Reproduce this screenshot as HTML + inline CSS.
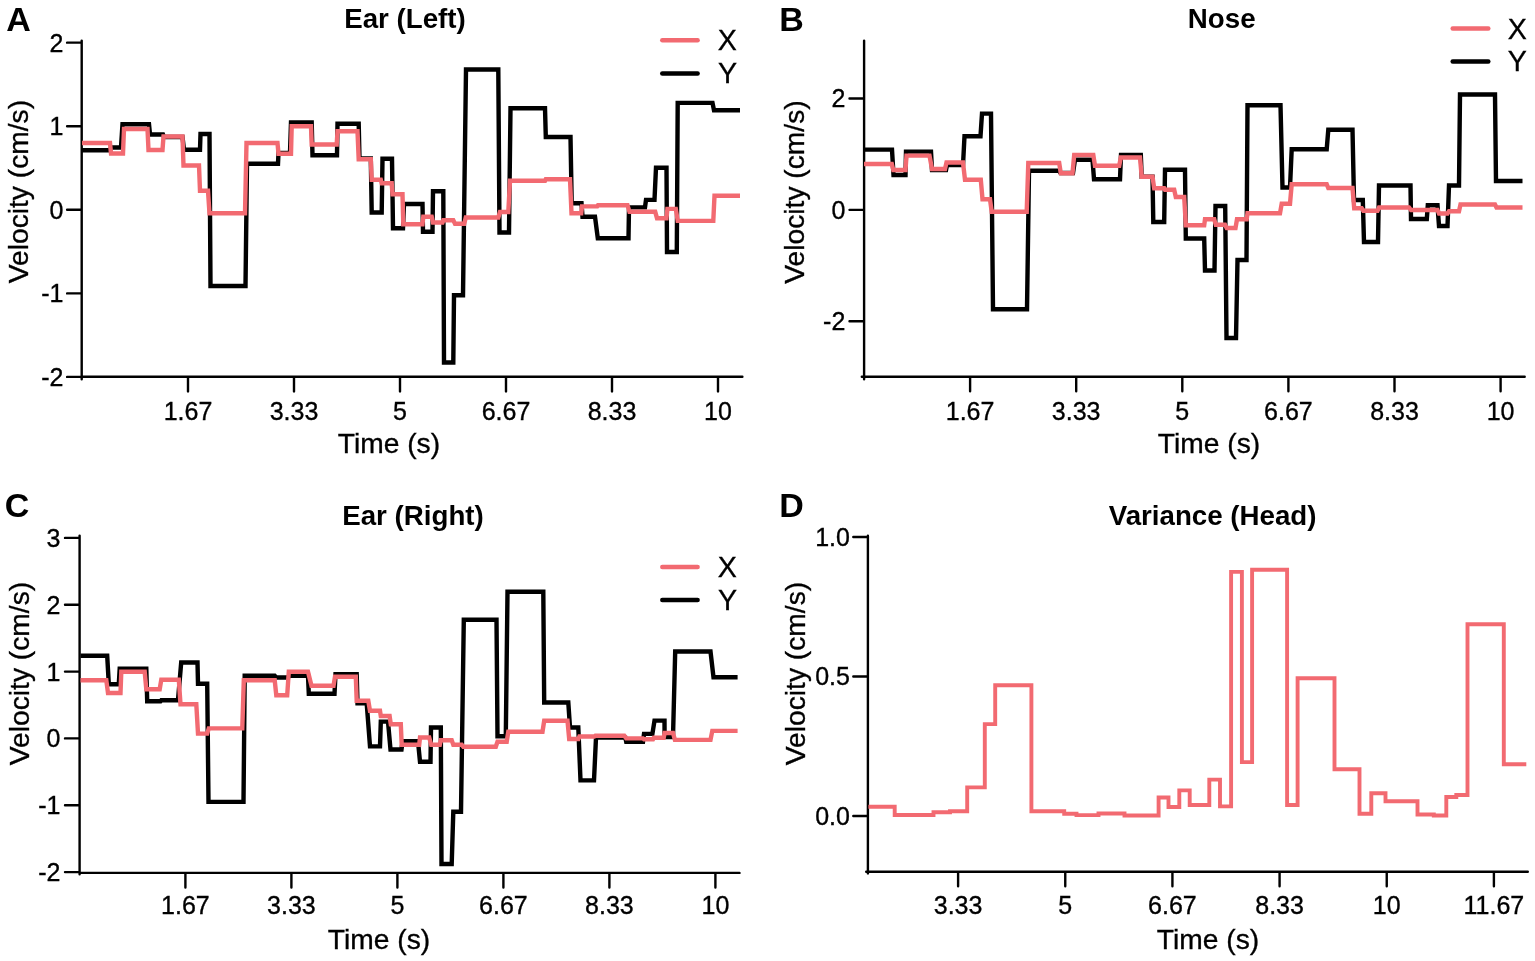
<!DOCTYPE html>
<html><head><meta charset="utf-8"><title>Velocity plots</title>
<style>
html,body{margin:0;padding:0;background:#fff;width:1535px;height:961px;overflow:hidden;}
svg{display:block;}
text{font-family:"Liberation Sans",Arial,sans-serif;}
</style></head><body>
<svg width="1535" height="961" viewBox="0 0 1535 961">
<rect width="1535" height="961" fill="#fff"/>
<g stroke="#000" stroke-width="2.4" fill="none" stroke-linecap="round">
<path d="M81.7 40.6 V379.2 M81.7 376.8 H742.4 M67.1 42.66 H81.7 M67.1 126.2 H81.7 M67.1 209.8 H81.7 M67.1 293.4 H81.7 M67.1 376.9 H81.7 M188 376.8 V391.4 M294 376.8 V391.4 M400 376.8 V391.4 M506 376.8 V391.4 M612 376.8 V391.4 M718 376.8 V391.4"/>
<path d="M864.1 40.6 V379.2 M861.8 376.7 H1524.7 M849.5 98.5 H864.1 M849.5 209.85 H864.1 M849.5 321.2 H864.1 M970.1 376.7 V391.3 M1076.2 376.7 V391.3 M1182.3 376.7 V391.3 M1288.4 376.7 V391.3 M1394.5 376.7 V391.3 M1500.6 376.7 V391.3"/>
<path d="M79.6 535.6 V874.2 M79.6 872.9 H739.5 M65 537.9 H79.6 M65 604.7 H79.6 M65 671.6 H79.6 M65 738.4 H79.6 M65 805.25 H79.6 M65 872.1 H79.6 M185.4 872.9 V887.5 M291.4 872.9 V887.5 M397.4 872.9 V887.5 M503.4 872.9 V887.5 M609.4 872.9 V887.5 M715.4 872.9 V887.5"/>
<path d="M867.9 535.7 V873.4 M866.2 871.7 H1527.8 M853.3 537.05 H867.9 M853.3 676.5 H867.9 M853.3 816 H867.9 M958.1 871.7 V886.3 M1065.26 871.7 V886.3 M1172.42 871.7 V886.3 M1279.58 871.7 V886.3 M1386.74 871.7 V886.3 M1493.9 871.7 V886.3"/>
</g>
<g fill="none" stroke-width="4.4" stroke-linejoin="miter" stroke-miterlimit="10">
<path stroke="#000" d="M82 150.3 L110 150.3 L111 147.5 L121 147.5 L122.5 124.2 L149 124.2 L150 134.5 L163 134.5 L164 137 L182.5 137 L184 149.7 L200 149.7 L200.5 134 L209.5 134 L210.5 286 L245.5 286 L247 163.7 L278 163.7 L278.5 153 L290 153 L291 122.5 L311.7 122.5 L312.5 155.3 L337 155.3 L337.5 123.7 L358.7 123.7 L359.5 158.5 L370.8 158.5 L371.7 212.5 L381.7 212.5 L382.5 158.7 L392 158.7 L393 228.3 L403 228.3 L404 204 L422.5 204 L423 231.7 L432.5 231.7 L433 191.3 L443.3 191.3 L444 362.5 L453.3 362.5 L454 295.3 L463 295.3 L466 69.5 L498.3 69.5 L499.5 232.5 L509 232.5 L510.5 108.3 L545 108.3 L545.8 137 L570.5 137 L571.7 203.2 L581.5 203.2 L582.5 216.7 L595 216.7 L597.8 238.2 L628.5 238.2 L629 207.4 L645 207.4 L646 199.9 L654.5 199.9 L656 167.7 L666.5 167.7 L667 252 L676.8 252 L677.7 102.9 L712.5 102.9 L714 110.3 L740 110.3"/>
<path stroke="#f26a71" d="M82 143 L110 143 L111 153.5 L123 153.5 L124 129 L147.5 129 L148.5 150 L162.5 150 L163.5 136.5 L182.5 136.5 L183.5 165.5 L199 165.5 L200 190.8 L208 190.8 L209.5 213.3 L245 213.3 L246.5 143 L277.5 143 L278.5 153.7 L291 153.7 L291.7 126.3 L311 126.3 L311.7 144.5 L336.7 144.5 L337.5 131.3 L357.5 131.3 L358.7 159.2 L370.8 159.2 L371.7 179.7 L380.8 179.7 L381.7 183.3 L391.7 183.3 L392.5 194.2 L402.5 194.2 L403.3 224.2 L422.5 224.2 L423.3 216.7 L431.7 216.7 L433 222.5 L442.5 222.5 L443.3 220.3 L453.3 220.3 L455 223.7 L464.2 223.7 L465.8 217.5 L498.3 217.5 L500 212 L508.3 212 L510 180.8 L545 180.8 L545.8 179.2 L570 179.2 L571.5 213.3 L581.2 213.3 L582 206.4 L597.2 206.4 L598 205.2 L627.5 205.2 L629.5 211.8 L655.2 211.8 L657 218.2 L666.5 218.2 L667.4 208.9 L675.8 208.9 L677.7 220.9 L713.3 220.9 L714.5 195.8 L740 195.8"/>
<path stroke="#000" d="M864 149.6 L892 149.6 L893.5 175 L905.5 175 L906 151.6 L931 151.6 L932 170 L946 170 L947 165 L963 165 L964.5 136.2 L980.5 136.2 L982 113.6 L991 113.6 L993 309.3 L1027 309.3 L1029 170.8 L1059 170.8 L1060.5 173 L1073 173 L1075 159.7 L1092.5 159.7 L1094 179.2 L1120 179.2 L1121 155 L1140.8 155 L1141.7 176.7 L1152.5 176.7 L1153.3 222 L1164.2 222 L1165 169.7 L1185 169.7 L1185.8 238.5 L1204.2 238.5 L1205 270.5 L1214.5 270.5 L1215.5 206 L1225.2 206 L1226.5 338 L1236 338 L1237.5 260 L1246.5 260 L1247.5 105.3 L1280.5 105.3 L1282.5 187.5 L1290 187.5 L1291.7 149.2 L1326.7 149.2 L1328.3 129.7 L1352.5 129.7 L1354 200 L1362.8 200 L1364 242 L1378 242 L1379 185.5 L1410.5 185.5 L1411 219 L1426.8 219 L1427.8 205.3 L1437.5 205.3 L1439 226 L1447.5 226 L1449 185.5 L1459 185.5 L1460 94.5 L1495 94.5 L1496 181 L1522.5 181"/>
<path stroke="#f26a71" d="M864 164 L891.8 164 L893.3 170 L905.5 170 L906.5 155.6 L929.5 155.6 L932 169 L945 169 L946.5 162.5 L963 162.5 L965 179.7 L980.8 179.7 L982.5 199.2 L990 199.2 L991.7 211.8 L1026.7 211.8 L1028.3 163 L1059.2 163 L1060.8 173.3 L1072.5 173.3 L1074.2 155 L1093.3 155 L1095 165.8 L1119.2 165.8 L1120.8 157.5 L1140 157.5 L1141.7 176.7 L1152.5 176.7 L1154.2 188.3 L1164.2 188.3 L1165 189.7 L1174.2 189.7 L1175.8 197 L1184.2 197 L1185.8 225.2 L1204.2 225.2 L1205 219.2 L1214.2 219.2 L1215.8 224.8 L1225 224.8 L1226.7 228 L1235.5 228 L1237 219.3 L1246.7 219.3 L1247.5 213.3 L1280 213.3 L1281.7 203.7 L1290 203.7 L1291.7 184.2 L1326.7 184.2 L1328.3 188 L1352.5 188 L1354.2 208.3 L1361.7 208.3 L1363.3 210.8 L1377.5 210.8 L1379 207.5 L1409 207.5 L1411 210 L1437.5 210 L1439 213.5 L1447.5 213.5 L1449 211.2 L1459 211.2 L1460.5 204.5 L1495 204.5 L1496.5 207.5 L1522.5 207.5"/>
<path stroke="#000" d="M80.5 655.8 L107.2 655.8 L108.8 684.2 L118.8 684.2 L119.7 668.7 L146.3 668.7 L147.2 701.3 L160.5 701.3 L161.3 700.3 L178 700.3 L181.2 662.5 L197.5 662.5 L198 683.7 L207.2 683.7 L208.5 801.9 L243.5 801.9 L244.7 675.8 L274.7 675.8 L276.3 677.5 L288 677.5 L289.7 675.8 L308 675.8 L308.8 693.8 L334.5 693.8 L335.5 674.2 L356.7 674.2 L357.5 703.3 L366.7 703.3 L370 746.4 L380 746.4 L380.8 721.6 L388 721.6 L390.5 749.5 L401.5 749.5 L402.6 741.2 L418 741.2 L420 761.7 L430.5 761.7 L431 727.5 L440.8 727.5 L441.5 864 L451.7 864 L453.3 811.7 L461 811.7 L463.8 619.7 L496.5 619.7 L497.5 736.3 L505.8 736.3 L507.5 591.7 L543.3 591.7 L544.2 702.5 L568.3 702.5 L570 727.5 L578.3 727.5 L580.5 780.4 L594 780.4 L596 737.6 L625.3 737.6 L626.2 741.7 L643 741.7 L644 733.9 L652.4 733.9 L654.5 720.6 L664.5 720.6 L664.6 737 L673 737 L675.2 651.5 L710.5 651.5 L713.5 677.3 L737.6 677.3"/>
<path stroke="#f26a71" d="M80.5 680.3 L106.3 680.3 L108 693 L120.5 693 L121.3 671.7 L144.7 671.7 L146.3 689.2 L159.7 689.2 L161.3 679.7 L178.8 679.7 L180.5 704.2 L196.3 704.2 L198 733.6 L207.2 733.6 L208.8 728.4 L242.3 728.4 L243.8 680.3 L274.7 680.3 L276.3 695.3 L287.2 695.3 L288.8 671.7 L308 671.7 L311.5 685.8 L333.5 685.8 L335 676.7 L355.8 676.7 L356.7 700.8 L368.3 700.8 L370 710.8 L380 710.8 L380.8 716 L389.6 716 L390.8 724.2 L400.8 724.2 L401.7 744.7 L419.2 744.7 L420 737.5 L429.2 737.5 L431.2 744.8 L439.8 744.8 L440.8 740.3 L451.7 740.3 L453.3 744.7 L461.7 744.7 L463.3 746.7 L495.8 746.7 L497.5 741.7 L506.7 741.7 L508.3 731.7 L542.5 731.7 L544.2 720.8 L567.5 720.8 L569.2 739 L578.4 739 L579.4 736.5 L594.3 736.5 L595.3 735.8 L624.3 735.8 L626.2 738.4 L643 738.4 L644 739.3 L653 739.3 L653.8 737.8 L663.7 737.8 L664.6 733 L673 733 L674.9 739.9 L710.5 739.9 L712.3 730.9 L737.6 730.9"/>
<path stroke="#f26a71" stroke-width="3.9" d="M868.4 806.7 L894.7 806.7 L894.7 815 L933.5 815 L933.5 812.3 L950 812.3 L950 811.3 L967.2 811.3 L967.2 787.4 L984.8 787.4 L984.8 724.1 L995.2 724.1 L995.2 685.3 L1031.4 685.3 L1031.4 811.3 L1064.2 811.3 L1064.2 813.8 L1076.5 813.8 L1076.5 815.1 L1098.5 815.1 L1098.5 813.5 L1124.5 813.5 L1124.5 815.5 L1158.6 815.5 L1158.6 797.5 L1168.5 797.5 L1168.5 807 L1179.3 807 L1179.3 790.4 L1189.7 790.4 L1189.7 805 L1209.3 805 L1209.3 779.6 L1220 779.6 L1220 806.4 L1231.1 806.4 L1231.1 571.9 L1241.9 571.9 L1241.9 762.1 L1252.1 762.1 L1252.1 569.8 L1287.1 569.8 L1287.1 805 L1297.6 805 L1297.6 678.3 L1334.5 678.3 L1334.5 769.3 L1359.5 769.3 L1359.5 813.8 L1371.3 813.8 L1371.3 793.3 L1385.5 793.3 L1385.5 801.3 L1417.5 801.3 L1417.5 814.5 L1433.8 814.5 L1433.8 815.5 L1446.3 815.5 L1446.3 797 L1456.3 797 L1456.3 795 L1467.5 795 L1467.5 624.3 L1503.8 624.3 L1503.8 764.3 L1526.3 764.3"/>
</g>
<g stroke-width="4.5" stroke-linecap="round">
<path stroke="#f26a71" d="M662.3 40.2 H697.6"/>
<path stroke="#000" d="M662.3 73.4 H697.6"/>
<path stroke="#f26a71" d="M1452.7 28.6 H1488.3"/>
<path stroke="#000" d="M1452.7 61.6 H1488.3"/>
<path stroke="#f26a71" d="M662.3 567.1 H697.6"/>
<path stroke="#000" d="M662.3 600.1 H697.6"/>
</g>
<g font-family="Liberation Sans, Arial, sans-serif" fill="#000" stroke="#000" stroke-width="0.35">
<text x="18.5" y="31" font-size="34" text-anchor="middle" font-weight="bold" stroke-width="0">A</text>
<text x="791.5" y="31" font-size="34" text-anchor="middle" font-weight="bold" stroke-width="0">B</text>
<text x="17" y="516.5" font-size="34" text-anchor="middle" font-weight="bold" stroke-width="0">C</text>
<text x="791.5" y="517" font-size="34" text-anchor="middle" font-weight="bold" stroke-width="0">D</text>
<text x="405" y="27.75" font-size="27.7" text-anchor="middle" font-weight="bold" stroke-width="0">Ear (Left)</text>
<text x="1221.7" y="28.2" font-size="27.7" text-anchor="middle" font-weight="bold" stroke-width="0">Nose</text>
<text x="413" y="524.5" font-size="27.7" text-anchor="middle" font-weight="bold" stroke-width="0">Ear (Right)</text>
<text x="1212.6" y="525.3" font-size="27.7" text-anchor="middle" font-weight="bold" stroke-width="0">Variance (Head)</text>
<text x="388.9" y="453.3" font-size="28.2" text-anchor="middle">Time (s)</text>
<text x="1209" y="453.3" font-size="28.2" text-anchor="middle">Time (s)</text>
<text x="379" y="948.9" font-size="28.2" text-anchor="middle">Time (s)</text>
<text x="1208" y="948.9" font-size="28.2" text-anchor="middle">Time (s)</text>
<text x="0" y="0" font-size="28.2" text-anchor="middle" transform="translate(27.75 191.6) rotate(-90)">Velocity (cm/s)</text>
<text x="0" y="0" font-size="28.2" text-anchor="middle" transform="translate(803.62 192) rotate(-90)">Velocity (cm/s)</text>
<text x="0" y="0" font-size="28.2" text-anchor="middle" transform="translate(28.5 673.5) rotate(-90)">Velocity (cm/s)</text>
<text x="0" y="0" font-size="28.2" text-anchor="middle" transform="translate(804.62 673.5) rotate(-90)">Velocity (cm/s)</text>
<text x="727.4" y="50" font-size="28.6" text-anchor="middle">X</text>
<text x="727.6" y="82.8" font-size="28.6" text-anchor="middle">Y</text>
<text x="1517.3" y="38.6" font-size="28.6" text-anchor="middle">X</text>
<text x="1517.3" y="70.8" font-size="28.6" text-anchor="middle">Y</text>
<text x="727.4" y="576.85" font-size="28.6" text-anchor="middle">X</text>
<text x="727.5" y="609.8" font-size="28.6" text-anchor="middle">Y</text>
<text x="63.4" y="51.61" font-size="25" text-anchor="end">2</text>
<text x="63.4" y="135.15" font-size="25" text-anchor="end">1</text>
<text x="63.4" y="218.75" font-size="25" text-anchor="end">0</text>
<text x="63.4" y="302.35" font-size="25" text-anchor="end">-1</text>
<text x="63.4" y="385.85" font-size="25" text-anchor="end">-2</text>
<text x="845.3" y="107.45" font-size="25" text-anchor="end">2</text>
<text x="845.3" y="218.8" font-size="25" text-anchor="end">0</text>
<text x="845.3" y="330.15" font-size="25" text-anchor="end">-2</text>
<text x="60.5" y="546.85" font-size="25" text-anchor="end">3</text>
<text x="60.5" y="613.65" font-size="25" text-anchor="end">2</text>
<text x="60.5" y="680.55" font-size="25" text-anchor="end">1</text>
<text x="60.5" y="747.35" font-size="25" text-anchor="end">0</text>
<text x="60.5" y="814.2" font-size="25" text-anchor="end">-1</text>
<text x="60.5" y="881.05" font-size="25" text-anchor="end">-2</text>
<text x="849.9" y="546" font-size="25" text-anchor="end">1.0</text>
<text x="849.9" y="685.45" font-size="25" text-anchor="end">0.5</text>
<text x="849.9" y="824.95" font-size="25" text-anchor="end">0.0</text>
<text x="188" y="419.9" font-size="25" text-anchor="middle">1.67</text>
<text x="294" y="419.9" font-size="25" text-anchor="middle">3.33</text>
<text x="400" y="419.9" font-size="25" text-anchor="middle">5</text>
<text x="506" y="419.9" font-size="25" text-anchor="middle">6.67</text>
<text x="612" y="419.9" font-size="25" text-anchor="middle">8.33</text>
<text x="718" y="419.9" font-size="25" text-anchor="middle">10</text>
<text x="970.1" y="419.9" font-size="25" text-anchor="middle">1.67</text>
<text x="1076.2" y="419.9" font-size="25" text-anchor="middle">3.33</text>
<text x="1182.3" y="419.9" font-size="25" text-anchor="middle">5</text>
<text x="1288.4" y="419.9" font-size="25" text-anchor="middle">6.67</text>
<text x="1394.5" y="419.9" font-size="25" text-anchor="middle">8.33</text>
<text x="1500.6" y="419.9" font-size="25" text-anchor="middle">10</text>
<text x="185.4" y="913.7" font-size="25" text-anchor="middle">1.67</text>
<text x="291.4" y="913.7" font-size="25" text-anchor="middle">3.33</text>
<text x="397.4" y="913.7" font-size="25" text-anchor="middle">5</text>
<text x="503.4" y="913.7" font-size="25" text-anchor="middle">6.67</text>
<text x="609.4" y="913.7" font-size="25" text-anchor="middle">8.33</text>
<text x="715.4" y="913.7" font-size="25" text-anchor="middle">10</text>
<text x="958.1" y="913.7" font-size="25" text-anchor="middle">3.33</text>
<text x="1065.26" y="913.7" font-size="25" text-anchor="middle">5</text>
<text x="1172.42" y="913.7" font-size="25" text-anchor="middle">6.67</text>
<text x="1279.58" y="913.7" font-size="25" text-anchor="middle">8.33</text>
<text x="1386.74" y="913.7" font-size="25" text-anchor="middle">10</text>
<text x="1493.9" y="913.7" font-size="25" text-anchor="middle">11.67</text>
</g>
</svg>
</body></html>
